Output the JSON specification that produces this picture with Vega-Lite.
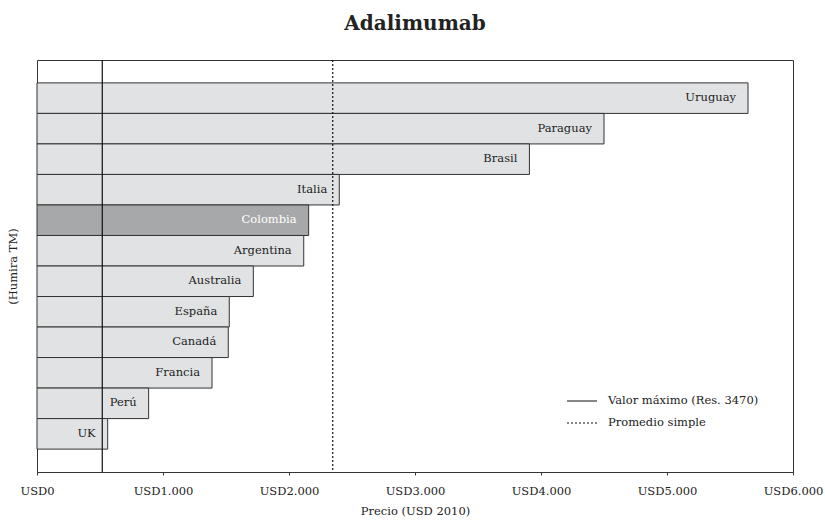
{
  "$schema": "https://vega.github.io/schema/vega-lite/v6.json",
  "width": 756,
  "height": 412,
  "autosize": {"type": "none"},
  "padding": {"left": 37, "top": 60, "right": 32, "bottom": 54},
  "background": "white",
  "config": {
    "font": "DejaVu Serif",
    "view": {"stroke": "#333333", "strokeWidth": 1}
  },
  "title": {
    "text": "Adalimumab",
    "font": "DejaVu Serif",
    "fontSize": 20,
    "fontWeight": "bold",
    "color": "#222222",
    "anchor": "middle",
    "offset": 25
  },
  "layer": [
    {
      "data": {
        "values": [
          {"pais": "Uruguay", "precio": 5643},
          {"pais": "Paraguay", "precio": 4500},
          {"pais": "Brasil", "precio": 3908},
          {"pais": "Italia", "precio": 2399},
          {"pais": "Colombia", "precio": 2156},
          {"pais": "Argentina", "precio": 2117},
          {"pais": "Australia", "precio": 1717},
          {"pais": "España", "precio": 1526},
          {"pais": "Canadá", "precio": 1518},
          {"pais": "Francia", "precio": 1389},
          {"pais": "Perú", "precio": 886},
          {"pais": "UK", "precio": 561}
        ]
      },
      "encoding": {
        "y": {
          "field": "pais",
          "type": "nominal",
          "sort": "-x",
          "scale": {"paddingInner": 0, "paddingOuter": 0.75},
          "axis": {
            "labels": false,
            "ticks": false,
            "domain": false,
            "title": "(Humira TM)",
            "titleFont": "DejaVu Serif",
            "titleFontSize": 11.5,
            "titleFontWeight": "normal",
            "titleColor": "#222222",
            "titlePadding": 19
          }
        },
        "x": {
          "field": "precio",
          "type": "quantitative",
          "scale": {"domain": [0, 6000], "nice": false},
          "axis": {
            "values": [0, 1000, 2000, 3000, 4000, 5000, 6000],
            "labelExpr": "datum.value == 0 ? 'USD0' : 'USD' + format(datum.value / 1000, 'd') + '.000'",
            "grid": false,
            "tickSize": 3,
            "tickColor": "#333333",
            "domainColor": "#333333",
            "labelFont": "DejaVu Serif",
            "labelFontSize": 11.5,
            "labelColor": "#222222",
            "labelPadding": 10,
            "labelFlush": false,
            "title": "Precio (USD 2010)",
            "titleFont": "DejaVu Serif",
            "titleFontSize": 11.5,
            "titleFontWeight": "normal",
            "titleColor": "#222222",
            "titlePadding": 9
          }
        }
      },
      "layer": [
        {
          "mark": {"type": "bar", "stroke": "#333333", "strokeWidth": 1},
          "encoding": {
            "fill": {
              "condition": {"test": "datum.pais === 'Colombia'", "value": "#a7a8aa"},
              "value": "#e1e2e4"
            }
          }
        },
        {
          "mark": {"type": "text", "align": "right", "baseline": "middle", "dx": -12, "fontSize": 11.5, "font": "DejaVu Serif"},
          "encoding": {
            "text": {"field": "pais"},
            "color": {
              "condition": {"test": "datum.pais === 'Colombia'", "value": "#ffffff"},
              "value": "#222222"
            }
          }
        }
      ]
    },
    {
      "data": {
        "values": [
          {"serie": "Valor máximo (Res. 3470)", "valor": 518},
          {"serie": "Promedio simple", "valor": 2347}
        ]
      },
      "mark": {"type": "rule", "color": "#111111", "strokeWidth": 1.2},
      "encoding": {
        "x": {"field": "valor", "type": "quantitative"},
        "strokeDash": {
          "field": "serie",
          "type": "nominal",
          "scale": {
            "domain": ["Valor máximo (Res. 3470)", "Promedio simple"],
            "range": [[1, 0], [2, 2]]
          },
          "legend": {
            "title": null,
            "orient": "none",
            "legendX": 529,
            "legendY": 325,
            "symbolType": "stroke",
            "symbolSize": 900,
            "symbolStrokeWidth": 1.2,
            "symbolStrokeColor": "#111111",
            "labelFont": "DejaVu Serif",
            "labelFontSize": 11.5,
            "labelColor": "#222222",
            "labelOffset": 10,
            "rowPadding": 0
          }
        }
      }
    }
  ]
}
